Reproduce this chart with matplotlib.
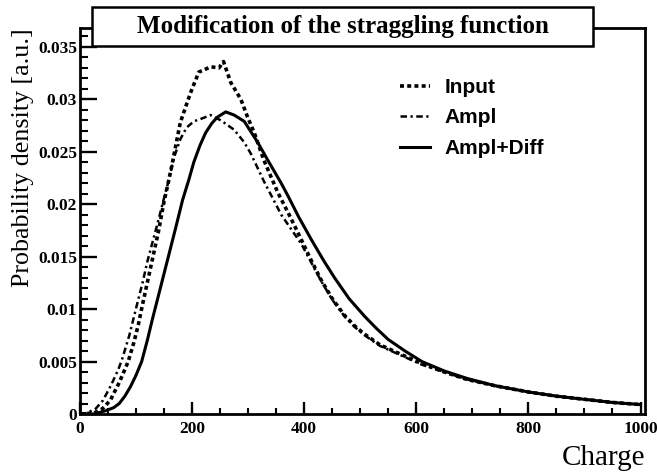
import matplotlib
matplotlib.use("Agg")
import matplotlib.pyplot as plt
from matplotlib.patches import Rectangle
from matplotlib.ticker import MultipleLocator, FixedLocator

# ---- data ----
input_x = [0, 25, 40, 54, 70, 86, 96, 104, 111, 120, 131, 140, 149, 158, 165, 179, 197, 212, 221, 233,
           248, 256, 269, 287, 299, 311, 328, 353, 375, 395, 412, 430, 450, 472, 490, 508, 535, 568, 610,
           650, 690, 740, 800, 850, 900, 950, 1000]
input_y = [0, 0.0001, 0.0005, 0.0013, 0.0030, 0.0050, 0.0068, 0.0085, 0.0103, 0.0125, 0.0152, 0.0174,
           0.0200, 0.0222, 0.0240, 0.0278, 0.0306, 0.0326, 0.0328, 0.0331, 0.0330, 0.0336, 0.0316, 0.0300,
           0.0283, 0.0268, 0.0242, 0.0211, 0.0188, 0.0166, 0.0147, 0.0128, 0.0110, 0.0094, 0.0084, 0.0076,
           0.0066, 0.0058, 0.0048, 0.0040, 0.0033, 0.0027, 0.0021, 0.0017, 0.0014, 0.0011, 0.0009]

ampl_x = [0, 12, 28, 41, 55, 68, 75, 88, 102, 112, 120, 140, 149, 158, 168, 179, 190, 203, 219, 233,
          251, 275, 293, 305, 328, 359, 395, 412, 430, 450, 472, 490, 508, 535, 568, 610, 650, 690, 740,
          800, 850, 900, 950, 1000]
ampl_y = [0, 0.0001, 0.0005, 0.0013, 0.0027, 0.0042, 0.0052, 0.0075, 0.0105, 0.0126, 0.0145, 0.0185,
          0.0204, 0.0222, 0.0245, 0.0262, 0.0273, 0.0279, 0.0282, 0.0285, 0.0280, 0.0271, 0.0259, 0.0248,
          0.0222, 0.0190, 0.0162, 0.0145, 0.0127, 0.0109, 0.0093, 0.0083, 0.0075, 0.0065, 0.0057, 0.0047,
          0.0040, 0.0033, 0.0027, 0.0021, 0.0017, 0.0014, 0.0011, 0.0009]

diff_x = [0, 25, 45, 60, 70, 80, 90, 100, 110, 120, 129, 140, 150, 160, 170, 183, 194, 203, 214, 224,
          235, 245, 260, 275, 293, 305, 317, 335, 359, 371, 390, 413, 435, 454, 480, 508, 530, 550, 580,
          610, 650, 690, 740, 800, 850, 900, 950, 1000]
diff_y = [0, 0.0, 0.0003, 0.0006, 0.0010, 0.0017, 0.0026, 0.0037, 0.0050, 0.0070, 0.0090, 0.0113,
          0.0134, 0.0155, 0.0176, 0.0204, 0.0223, 0.0240, 0.0256, 0.0268, 0.0277, 0.0283, 0.0288, 0.0285,
          0.0279, 0.0269, 0.0259, 0.0242, 0.0220, 0.0208, 0.0188, 0.0166, 0.0146, 0.0130, 0.0110, 0.0093,
          0.0081, 0.0071, 0.0060, 0.0050, 0.0041, 0.0034, 0.0027, 0.0021, 0.0017, 0.0014, 0.0011, 0.0009]

labels = ["Input", "Ampl", "Ampl+Diff"]
title = "Modification of the straggling function"
xlabel = "Charge"
ylabel = "Probability density [a.u.]"
xticks = [0, 200, 400, 600, 800, 1000]
yticks = [0, 0.005, 0.01, 0.015, 0.02, 0.025, 0.03, 0.035]
ytick_labels = ["0", "0.005", "0.01", "0.015", "0.02", "0.025", "0.03", "0.035"]

# ---- figure ----
W, H = 657, 472
fig = plt.figure(figsize=(W / 100, H / 100), dpi=100)
L, R, T, B = 80, 645, 28, 414
ax = fig.add_axes([L / W, 1 - B / H, (R - L) / W, (B - T) / H])

serif = ["Liberation Serif", "DejaVu Serif"]
sans = ["Liberation Sans", "DejaVu Sans"]

ax.plot(input_x, input_y, color="black", lw=2.6, linestyle=(0, (1.1, 0.9)), label=labels[0])
ax.plot(ampl_x, ampl_y, color="black", lw=1.8, linestyle=(0, (2.6, 1.4, 0.9, 1.4)), label=labels[1])
ax.plot(diff_x, diff_y, color="black", lw=2.2, linestyle="-", label=labels[2])

ax.set_xlim(0, 1008)
ax.set_ylim(0, 0.0368)

ax.xaxis.set_major_locator(FixedLocator(xticks))
ax.xaxis.set_minor_locator(MultipleLocator(50))
ax.yaxis.set_major_locator(FixedLocator(yticks))
ax.yaxis.set_minor_locator(MultipleLocator(0.001))
ax.set_yticklabels(ytick_labels)
ax.set_xticklabels([str(v) for v in xticks])

ax.tick_params(axis="y", which="major", direction="in", length=12, width=1.7, pad=2)
ax.tick_params(axis="y", which="minor", direction="in", length=6, width=1.5)
ax.tick_params(axis="x", which="major", direction="in", length=8.5, width=1.7, pad=5)
ax.tick_params(axis="x", which="minor", direction="in", length=4.2, width=1.5)
for lab in ax.get_xticklabels() + ax.get_yticklabels():
    lab.set_family(serif)
    lab.set_fontsize(12.5)
    lab.set_fontweight("bold")

for s in ax.spines.values():
    s.set_linewidth(2.0)

leg = ax.legend(loc="upper left", bbox_to_anchor=((400 - L) / (R - L), 1 - (78 - T) / (B - T)),
                frameon=False, borderpad=0, borderaxespad=0, handlelength=1.45, handletextpad=0.7,
                labelspacing=0.55, prop={"family": sans, "size": 15, "weight": "bold"})

# axis titles
fig.text(R / W, 1 - 445 / H, xlabel, ha="right", va="top", family=serif, fontsize=21)
fig.text(12 / W, 1 - T / H, ylabel, ha="left", va="top", rotation=90, family=serif, fontsize=18.7)

# title box
bx0, bx1, by0, by1 = 92, 593, 7, 46
rect = Rectangle((bx0 / W, 1 - by1 / H), (bx1 - bx0) / W, (by1 - by0) / H, transform=fig.transFigure,
                 facecolor="white", edgecolor="black", lw=1.8, zorder=10)
fig.add_artist(rect)
fig.text((bx0 + bx1) / 2 / W, 1 - (by0 + by1) / 2 / H, title, ha="center", va="center",
         family=serif, fontsize=18, fontweight="bold", zorder=11)

fig.savefig("out.png", dpi=100)
